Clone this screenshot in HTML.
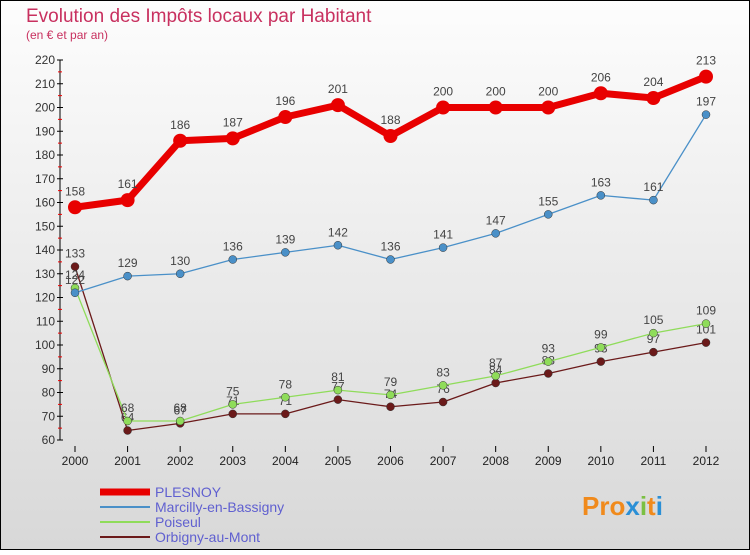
<!DOCTYPE html>
<html><head><meta charset="utf-8"><style>
body{margin:0;width:750px;height:550px;overflow:hidden;font-family:"Liberation Sans",sans-serif}
</style></head><body>
<svg id="c" width="750" height="550" xmlns="http://www.w3.org/2000/svg">
<defs><linearGradient id="bg" x1="0" y1="0" x2="0" y2="1"><stop offset="0" stop-color="#fdfdfd"/><stop offset="1" stop-color="#d8d8d8"/></linearGradient></defs>
<rect x="0.5" y="0.5" width="749" height="549" fill="url(#bg)" stroke="#000"/>
<text x="26" y="22" font-size="19" fill="#c8305f">Evolution des Impôts locaux par Habitant</text>
<text x="26" y="39" font-size="12" fill="#c8305f">(en € et par an)</text>
<g id="axes"></g><g id="series"></g><g id="legend"></g>
<g font-size="26" font-weight="bold">
<text x="582" y="515" fill="#f08a1c">Pro<tspan fill="#2a8fd6">x</tspan><tspan fill="#7bc043">i</tspan><tspan fill="#f08a1c">t</tspan><tspan fill="#2a8fd6">i</tspan></text>
</g>
</svg>
<script>
const years=[2000,2001,2002,2003,2004,2005,2006,2007,2008,2009,2010,2011,2012];
const plesnoy=[158,161,186,187,196,201,188,200,200,200,206,204,213];
const marcilly=[122,129,130,136,139,142,136,141,147,155,163,161,197];
const poiseul=[124,68,68,75,78,81,79,83,87,93,99,105,109];
const orbigny=[133,64,67,71,71,77,74,76,84,88,93,97,101];
const yTicks=[60,70,80,90,100,110,120,130,140,150,160,170,180,190,200,210,220];
const NS="http://www.w3.org/2000/svg";
const X=i=>75+i*(631/12);
const Y=v=>440-(v-60)*2.375;
function mk(t,a,p){const e=document.createElementNS(NS,t);for(const k in a)e.setAttribute(k,a[k]);p.appendChild(e);return e;}
const ax=document.getElementById('axes');
mk('line',{x1:60,y1:Y(220),x2:60,y2:Y(60),stroke:'#000'},ax);
yTicks.forEach(v=>{
  mk('line',{x1:57,y1:Y(v),x2:63,y2:Y(v),stroke:'#000'},ax);
  if(v<220)mk('line',{x1:58,y1:Y(v+5),x2:62,y2:Y(v+5),stroke:'#e00'},ax);
  const t=mk('text',{x:55,y:Y(v)+4,'text-anchor':'end','font-size':12,fill:'#333'},ax);t.textContent=v;
  
  
});
years.forEach((y,i)=>{
  mk('line',{x1:X(i),y1:446,x2:X(i),y2:452,stroke:'#000'},ax);
  const t=mk('text',{x:X(i),y:465,'text-anchor':'middle','font-size':12,fill:'#222'},ax);t.textContent=y;
  
  
});
const sg=document.getElementById('series');
const defs=[
 {name:'orbigny',d:orbigny,c:'#6b1a1a',w:1.3,r:4,lab:'Orbigny-au-Mont',fs:12},
 {name:'poiseul',d:poiseul,c:'#8fdc5a',w:1.3,r:4,lab:'Poiseul',fs:12},
 {name:'marcilly',d:marcilly,c:'#4a90c8',w:1.3,r:4,lab:'Marcilly-en-Bassigny',fs:12},
 {name:'plesnoy',d:plesnoy,c:'#e80000',w:7,r:7,lab:'PLESNOY',fs:12}];
defs.forEach(s=>{
  const g=mk('g',{},sg);
  
  
  mk('polyline',{points:s.d.map((v,i)=>X(i)+','+Y(v)).join(' '),fill:'none',stroke:s.c,'stroke-width':s.w,'stroke-linejoin':'round'},g);
  s.d.forEach((v,i)=>{
    const c=mk('circle',{cx:X(i),cy:Y(v),r:s.r,fill:s.c,stroke:s.name==='plesnoy'?'none':'#333','stroke-width':0.5},g);
    
    
    const t=mk('text',{x:X(i),y:Y(v)-(s.name==='plesnoy'?12:9),'text-anchor':'middle','font-size':12,fill:'#444'},g);t.textContent=v;
    
    
  });
});
const lg=document.getElementById('legend');
[defs[3],defs[2],defs[1],defs[0]].forEach((s,i)=>{
  const y=492+i*15;
  const g=mk('g',{},lg);
  
  
  mk('line',{x1:100,y1:y,x2:150,y2:y,stroke:s.c,'stroke-width':s.name==='plesnoy'?7:2},g);
  const t=mk('text',{x:155,y:y+5,'font-size':14,fill:'#6060d0'},g);t.textContent=s.lab;
});
</script>
</body></html>
